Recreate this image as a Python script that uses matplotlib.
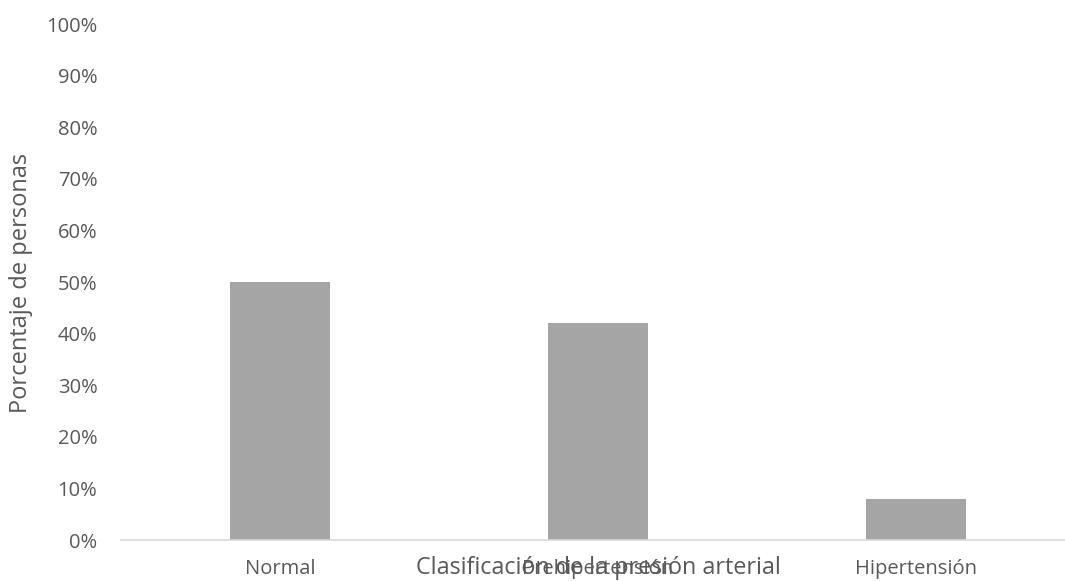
import numpy as np
import matplotlib.pyplot as plt
from matplotlib.ticker import PercentFormatter

categorias = ['Normal', 'Prehipertensión', 'Hipertensión']
porcentajes = [50, 42, 8]
ticks_y = list(range(0, 101, 10))

plt.rcParams['font.family'] = ['Open Sans', 'DejaVu Sans']
gris_texto = '#595959'

W, H = 1065, 581
fig = plt.figure(figsize=(W / 100, H / 100), dpi=100)
# area del grafico en pixeles: x 121..1065, y 24..540 (desde arriba)
ax = fig.add_axes([121 / W, (H - 540) / H, (1065 - 121) / W, (540 - 24) / H])

x = np.arange(len(categorias))
ax.bar(x, porcentajes, width=0.315, color='#a5a5a5', zorder=2)

ax.set_xlim(-0.5, 2.5 - 10 / 318)
ax.set_ylim(0, 100)
ax.set_yticks(ticks_y)
ax.yaxis.set_major_formatter(PercentFormatter(decimals=0))
ax.set_xticks(x)
ax.set_xticklabels(categorias)

for lado in ['top', 'right', 'left']:
    ax.spines[lado].set_visible(False)
ax.spines['bottom'].set_color('#d9d9d9')
ax.spines['bottom'].set_linewidth(1.2)

ax.tick_params(axis='both', length=0, labelcolor=gris_texto, labelsize=14.5)
ax.tick_params(axis='y', pad=17)
ax.tick_params(axis='x', pad=14)

fig.text(598 / W, 1 - 568 / H, 'Clasificación de la presión arterial',
         ha='center', va='center', fontsize=16.8, color=gris_texto)
fig.text(21 / W, 1 - 283 / H, 'Porcentaje de personas', rotation=90,
         ha='center', va='center', fontsize=17, color=gris_texto)

fig.savefig('out.png', dpi=100)
